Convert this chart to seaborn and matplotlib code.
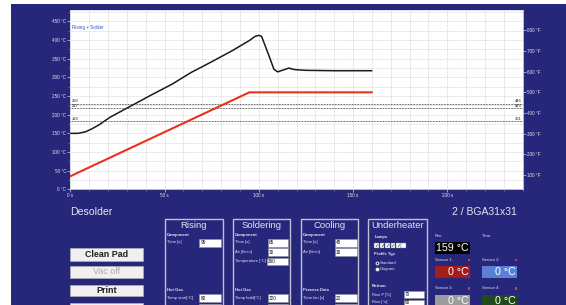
import numpy as np
import pandas as pd
import matplotlib
matplotlib.use("Agg")
import matplotlib.pyplot as plt
from matplotlib.patches import Rectangle
from matplotlib.lines import Line2D
import seaborn as sns

# ---------------- data ----------------
actual_time = [0, 4, 8, 11, 15, 21, 32, 43, 54, 64, 75, 86, 95, 98, 100, 101.5, 103, 106, 108, 110, 113, 116, 119, 125, 140, 160]
actual_temp = [150, 150, 154, 161, 172, 193, 223, 253, 282, 313, 342, 372, 399, 410, 413, 410, 390, 350, 322, 315, 320, 325, 321, 319, 318, 318]
setpoint_time = [0, 95, 160]
setpoint_temp = [35, 260, 260]
ref_temps_c = [230, 217, 183]
ref_labels_c = ["230", "217", "183"]
ref_labels_f = ["446", "423", "361"]
x_ticks = [0, 50, 100, 150, 200]
x_tick_labels = ["0 s", "50 s", "100 s", "150 s", "200 s"]
yc_ticks = [0, 50, 100, 150, 200, 250, 300, 350, 400, 450]
yc_tick_labels = [f"{v} °C" for v in yc_ticks]
yf_ticks = [100, 200, 300, 400, 500, 600, 700, 800]
yf_tick_labels = [f"{v} °F" for v in yf_ticks]

BLUE = "#26267a"
TXT = "#e4e4f2"

sns.set_theme(style="white")
plt.rcParams['font.family'] = ['Liberation Sans', 'DejaVu Sans']

W, H = 566, 305
fig = plt.figure(figsize=(W / 100, H / 100), dpi=100, facecolor="white")


def rect(x0, y0, x1, y1, **kw):
    kw.setdefault("zorder", 1)
    fig.add_artist(Rectangle((x0 / W, 1 - y1 / H), (x1 - x0) / W, (y1 - y0) / H,
                             transform=fig.transFigure, **kw))


def txt(x, y, s, **kw):
    kw.setdefault("va", "center")
    kw.setdefault("color", TXT)
    fig.text(x / W, 1 - y / H, s, **kw)


# blue panel
rect(11, 4, W, H + 5, facecolor=BLUE, edgecolor="none", zorder=-5)

# ---------------- chart ----------------
ax = fig.add_axes([70.3 / W, 1 - 189.3 / H, (522.7 - 70.3) / W, (189.3 - 10.3) / H])
ax.set_facecolor("white")

df_act = pd.DataFrame({"t": actual_time, "T": actual_temp})
df_set = pd.DataFrame({"t": setpoint_time, "T": setpoint_temp})
sns.lineplot(data=df_set, x="t", y="T", ax=ax, color="#e8321e", linewidth=1.5,
             estimator=None, sort=False, zorder=4)
sns.lineplot(data=df_act, x="t", y="T", ax=ax, color="#1a1a1a", linewidth=1.1,
             estimator=None, sort=False, zorder=5)

ax.set_xlim(0, 240)
ax.set_ylim(0, 480)
ax.set_xlabel("")
ax.set_ylabel("")
ax.set_xticks(x_ticks)
ax.set_xticklabels(x_tick_labels)
ax.set_yticks(yc_ticks)
ax.set_yticklabels(yc_tick_labels)
ax.set_xticks(np.arange(0, 241, 10), minor=True)
ax.set_yticks(np.arange(0, 481, 25), minor=True)
ax.grid(which="both", color="#c8c8c8", linestyle=(0, (1, 1)), linewidth=0.5)
ax.tick_params(which="major", length=2, width=0.5, color="#d0d0e0", labelcolor=TXT,
               labelsize=3.3, pad=1, left=True, bottom=True)
ax.tick_params(which="minor", length=1.5, width=0.4, color="#9090b0", left=True, bottom=True)
for s in ax.spines.values():
    s.set_color("#d8d8e0")
    s.set_linewidth(0.6)

for t, lc, lf in zip(ref_temps_c, ref_labels_c, ref_labels_f):
    ax.axhline(t, color="#4a4a4a", linestyle=(0, (0.8, 0.8)), linewidth=0.7, zorder=3)
    ax.text(0.6, t + 6, lc, fontsize=3, color="#202020", va="center", ha="left", zorder=6)
    ax.text(239.5, t + 6, lf, fontsize=3, color="#202020", va="center", ha="right", zorder=6)

ax.text(0.8, 433, "Rising + Solder", fontsize=3.3, color="#3a4ec8", va="center", ha="left")

ax2 = ax.twinx()
ax2.set_ylim(0 * 9 / 5 + 32, 480 * 9 / 5 + 32)
ax2.set_yticks(yf_ticks)
ax2.set_yticklabels(yf_tick_labels)
ax2.grid(False)
ax2.tick_params(length=2, width=0.5, color="#d0d0e0", labelcolor=TXT, labelsize=3.3, pad=1, right=True)
for s in ax2.spines.values():
    s.set_visible(False)

# ---------------- UI below chart ----------------
txt(70, 212, "Desolder", fontsize=7.6, ha="left")
txt(452, 212, "2 / BGA31x31", fontsize=7.5, ha="left")

# buttons
buttons = [("Clean Pad", 248, 261, "bold", "#1e1e1e"),
           ("Vac off", 266, 278, "normal", "#a8a8a8"),
           ("Print", 284.5, 296, "bold", "#1e1e1e"),
           ("", 303, 312, "normal", "#1e1e1e")]
for label, y0, y1, wt, col in buttons:
    rect(70, y0, 143, y1, facecolor="#f0f0f0", edgecolor="#b0b0b8", linewidth=0.5)
    if label:
        txt(106.5, (y0 + y1) / 2, label, fontsize=6.4, weight=wt, color=col, ha="center", zorder=3)

# group boxes
groups = [("Rising", 165, 222.7), ("Soldering", 232.7, 290), ("Cooling", 301, 358.3), ("Underheater", 368.3, 426.7)]
for title, x0, x1 in groups:
    rect(x0, 219.3, x1, 320, facecolor="none", edgecolor="#c0c0d0", linewidth=1.0)
    txt((x0 + x1) / 2, 226, title, fontsize=6.8, ha="center")

small = dict(fontsize=3.0, ha="left")


def entry(x0, x1, y0, y1, val, ty=None):
    rect(x0, y0, x1, y1, facecolor="white", edgecolor="#9090a0", linewidth=0.4)
    if ty is None:
        ty = (y0 + y1) / 2
    txt(x0 + 1.2, ty, val, fontsize=3.3, color="#111111", ha="left", zorder=3)


# Rising
txt(167.3, 235, "Component", weight="bold", **small)
txt(167.3, 242.5, "Time [s]", **small)
entry(199.3, 220.7, 239, 246.7, "95")
txt(167.3, 290, "Hot Gas", weight="bold", **small)
txt(167.3, 298, "Temp start[°C]", **small)
entry(199.3, 220.7, 294.3, 301.7, "80")
entry(199.3, 220.7, 304, 312, "")

# Soldering
txt(235, 235, "Component", weight="bold", **small)
txt(235, 242.5, "Time [s]", **small)
entry(267.7, 288.3, 239, 246.7, "65")
txt(235, 252, "Air [l/min]", **small)
entry(267.7, 288.3, 248.3, 256, "30")
txt(235, 261.3, "Temperature [°C]", **small)
entry(266.7, 288.3, 257.7, 265, "260")
txt(235, 290, "Hot Gas", weight="bold", **small)
txt(235, 298, "Temp hold[°C]", **small)
entry(267.7, 288.3, 294.3, 301.7, "320")
entry(267.7, 288.3, 304, 312, "")

# Cooling
txt(302.7, 235, "Component", weight="bold", **small)
txt(302.7, 242.5, "Time [s]", **small)
entry(335, 356.7, 239, 246.7, "45")
txt(302.7, 252, "Air [l/min]", **small)
entry(335, 356.7, 248.3, 256, "30")
txt(302.7, 290, "Process Data", weight="bold", **small)
txt(302.7, 298, "Time fan [s]", **small)
entry(335, 356.7, 294.3, 301.7, "22")
entry(335, 356.7, 304, 312, "")

# Underheater
txt(374.3, 237.3, "Lamps", weight="bold", **small)
lamps_on = [True, True, True, True, True, False]
for i, on in enumerate(lamps_on):
    x0 = 374.3 + i * 5.4
    rect(x0, 242.7, x0 + 4.6, 247.5, facecolor="white", edgecolor="#707080", linewidth=0.3)
    if on:
        txt(x0 + 2.3, 245.2, "✓", fontsize=3.6, color="#111111", ha="center", family="DejaVu Sans", zorder=3)
txt(374.3, 253.7, "Profile Typ", weight="bold", **small)
for yy, lab, sel in [(263, "Standard", True), (269, "Diagram", False)]:
    fig.add_artist(Line2D([376.5 / W], [1 - yy / H], marker="o", markersize=2.6, markerfacecolor="white",
                          markeredgecolor="#8080a0", markeredgewidth=0.3, transform=fig.transFigure, zorder=2))
    if sel:
        fig.add_artist(Line2D([376.5 / W], [1 - yy / H], marker="o", markersize=1.2, markerfacecolor="#111111",
                              markeredgecolor="none", transform=fig.transFigure, zorder=3))
    txt(380, yy, lab, **small)
txt(372, 286, "Bottom", weight="bold", **small)
txt(372, 294.7, "Rise P [%]", **small)
entry(404, 424.3, 291.3, 298.3, "70")
txt(372, 302, "Rise [°s]", **small)
entry(404, 424.3, 300, 310, "90", ty=302.3)

# readouts
txt(435, 236, "Pen:", **small)
txt(482, 236, "Time:", **small)
rect(435, 242, 470, 254, facecolor="black", edgecolor="none")
txt(469, 248, "159 °C", fontsize=7.7, color="white", ha="right", zorder=3)

sensors = [("Sensor 1:", 435, 260, 266, "#a41c1c"), ("Sensor 2:", 482, 260, 266, "#5a80d6"),
           ("Sensor 3:", 435, 288.3, 294.5, "#9c9c9c"), ("Sensor 4:", 482, 288.3, 294.5, "#1e4a1c")]
for lab, x0, ly, by, col in sensors:
    txt(x0, ly, lab, **small)
    rect(x0 + 32.5, ly - 1.2, x0 + 34.5, ly + 1.2, facecolor="#d04040", edgecolor="none")
    rect(x0, by, x0 + 35, by + 12, facecolor=col, edgecolor="none")
    txt(x0 + 34, by + 6, "0 °C", fontsize=7.7, color="white", ha="right", zorder=3)

fig.savefig("out.png", dpi=100, facecolor=fig.get_facecolor())
